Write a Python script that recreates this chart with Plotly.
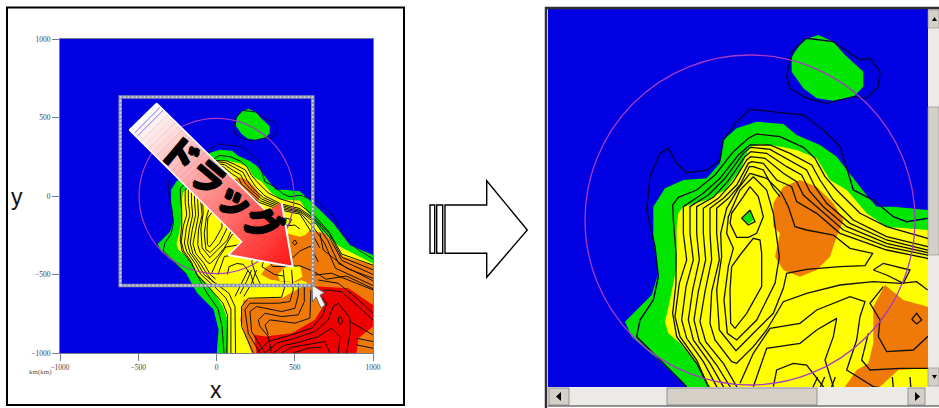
import plotly.graph_objects as go

W, H = 939, 408
BLUE, GREEN, YELLOW, ORANGE, RED = "#0000e2", "#00e600", "#ffff00", "#f07a08", "#f00000"

# ---- map data, in map units (km) ----
land_green = [(-375,-305),(-340,-270),(-295,-225),(-275,-160),(-290,-60),(-290,40),(-255,95),(-200,120),(-130,125),(-90,170),(-80,240),(-40,275),(20,295),(100,288),(140,255),(210,225),(260,190),(295,145),(345,80),(380,40),(430,40),(533,30),(619,-47),(747,-174),(853,-313),(1000,-376),(1000,-1000),(2,-1000),(13,-851),(-19,-723),(-125,-617),(-190,-500),(-280,-415),(-355,-350)]
island_green = [(205,555),(250,535),(285,495),(340,445),(340,400),(310,370),(250,358),(200,365),(160,395),(125,445),(125,490),(160,540)]
land_yellow = [(-255,-305),(-240,-240),(-220,-140),(-220,-20),(-215,20),(-200,40),(-129,60),(-75,90),(-30,150),(-9,201),(0,219),(30,228),(81,222),(140,210),(200,185),(240,120),(290,90),(350,20),(410,-20),(533,-30),(662,-217),(789,-323),(1000,-430),(1000,-1000),(75,-1000),(75,-800),(40,-700),(-40,-579),(-120,-500),(-155,-435),(-210,-370),(-245,-340)]
pocket_green = [(0,30),(10,0),(-5,-12),(-22,5)]
orange_upper = [(70,50),(100,100),(150,120),(200,100),(250,50),(280,0),(260,-50),(240,-110),(200,-150),(150,-170),(100,-150),(75,-110),(90,-40),(70,-20)]
orange_main = [(405,-195),(460,-240),(533,-260),(566,-249),(598,-217),(693,-238),(810,-386),(1000,-440),(1000,-1000),(225,-1000),(151,-791),(171,-662),(267,-651),(416,-651),(586,-556),(545,-536),(500,-550),(428,-547),(343,-532),(285,-500),(320,-450),(355,-430),(370,-370),(370,-260)]
yellow_blob = [(390,-500),(445,-450),(534,-445),(550,-515),(491,-547),(406,-541)]
land_red = [(650,-577),(842,-588),(1000,-694),(1000,-832),(906,-906),(895,-1000),(256,-1000),(241,-884),(310,-895),(480,-874),(629,-789),(682,-704),(629,-598)]

navy_main = [(-190,-500),(-290,-400),(-340,-350),(-330,-300),(-290,-240),(-275,-170),(-285,-80),(-310,30),(-300,130),(-270,200),(-245,215),(-220,170),(-190,142),(-130,150),(-90,180),(-80,240),(-40,295),(0,332),(70,325),(160,315),(220,270),(270,220),(295,140),(310,90),(370,60),(430,10),(470,-5),(533,5),(640,-30),(747,-130),(800,-230),(900,-340),(1000,-400)]
navy_island = [(115,455),(130,510),(170,545),(250,535),(330,480),(360,485),(390,445),(385,400),(350,365),(310,370),(230,350),(170,365),(120,395),(110,430),(115,455)]

contour_1 = [(48,-1000),(35,-830),(10,-720),(-60,-620),(-120,-510),(-160,-430),(-220,-350),(-232,-280),(-222,-190),(-222,-100),(-230,0),(-232,45),(-215,68),(-160,90),(-105,135),(-50,205),(-5,245),(20,258),(90,250),(160,218),(195,185),(225,130),(260,90),(330,20),(410,-20),(533,-55),(640,-140),(720,-230),(800,-370),(1000,-440)]
contour_2 = [(65,-1000),(71,-760),(40,-680),(-40,-590),(-125,-500),(-160,-420),(-210,-350),(-225,-290),(-212,-190),(-190,-120),(-200,-40),(-200,40),(-140,80),(-90,125),(-35,195),(0,225),(60,225),(120,200),(185,165),(210,120),(250,60),(310,0),(410,-50),(533,-80),(640,-155),(720,-240),(800,-390),(1000,-470)]
contour_3 = [(92,-1000),(92,-720),(60,-650),(-15,-575),(-100,-500),(-140,-425),(-190,-355),(-205,-300),(-192,-200),(-170,-120),(-180,-40),(-180,40),(-125,75),(-75,125),(-20,200),(2,218),(60,212),(115,180),(170,150),(195,100),(230,50),(300,-10),(410,-60),(533,-90),(640,-165),(720,-260),(800,-410),(1000,-500)]
contour_4 = [(122,-1000),(118,-704),(80,-620),(0,-560),(-80,-500),(-120,-430),(-170,-360),(-185,-300),(-172,-210),(-152,-120),(-160,-40),(-160,40),(-110,68),(-65,118),(-15,190),(2,205),(50,200),(110,160),(155,135),(180,85),(220,40),(290,-20),(410,-70),(533,-98),(640,-180),(710,-280),(780,-430),(1000,-540)]
contour_5 = [(-20,-550),(-60,-500),(-100,-435),(-152,-365),(-168,-300),(-155,-215),(-133,-120),(-140,-40),(-140,35),(-95,65),(-50,115),(-10,180),(2,190),(45,185),(100,140),(140,115),(160,75),(210,30),(280,-30),(410,-80),(533,-105),(620,-200),(690,-300),(760,-460),(1000,-570)]
contour_6 = [(-5,-530),(-40,-500),(-80,-430),(-133,-365),(-150,-305),(-135,-215),(-115,-120),(-120,-40),(-120,35),(-80,65),(-40,105),(-5,170),(5,175),(40,170),(80,120),(125,100),(140,55),(200,20),(270,-40),(410,-90),(533,-115),(600,-220),(660,-330)]
contour_7 = [(533,-210),(500,-185),(450,-190),(370,-185),(270,-195),(170,-220),(100,-245),(50,-330),(10,-380),(-40,-430),(-55,-425),(-105,-360),(-120,-310),(-115,-215),(-92,-120),(-100,-40),(-100,35),(-65,65),(-30,105),(-2,160),(10,160),(40,150),(70,95),(90,70)]
contour_8 = [(0,140),(-35,95),(-70,35),(-88,-40),(-85,-110),(-100,-210),(-92,-330),(-42,-392),(10,-340),(70,-280),(100,-205),(110,-160),(170,-148),(270,-140),(345,-137),(368,-100),(300,-85),(250,-45),(170,-30),(135,-20),(115,40),(95,80),(50,125),(0,140)]
contour_9 = [(10,130),(-30,90),(-65,10),(-70,-40),(-50,-85),(-65,-140),(-78,-240),(-68,-340),(-40,-360),(20,-300),(75,-190),(88,-110),(70,20),(50,90),(10,130)]
contour_10 = [(0,100),(25,70),(40,10),(20,-40),(-5,-52),(-40,-52),(-60,-10),(-55,20),(-20,70),(0,100)]
contour_11 = [(0,30),(15,-5),(-5,-15),(-25,5),(0,30)]
contour_12 = [(-30,-105),(-55,-140),(-60,-210),(-58,-310),(-45,-325),(-10,-280),(35,-200),(35,-100),(30,-60),(10,-55),(-30,-105)]
contour_13 = [(370,-150),(400,-130),(480,-150),(460,-190),(410,-165),(370,-150)]
contour_14 = [(-30,-490),(10,-400),(60,-325),(150,-310),(200,-270),(300,-230),(345,-245),(330,-290),(320,-360),(290,-450),(370,-500),(430,-510)]
contour_15 = [(10,-500),(50,-385),(150,-370),(200,-330),(260,-295),(250,-350),(225,-420),(250,-500),(280,-560)]
contour_16 = [(70,-500),(80,-450),(130,-430),(170,-435),(220,-500),(240,-570)]
contour_17 = [(400,-200),(360,-250),(390,-300),(385,-350),(410,-395),(490,-390),(533,-350),(600,-320),(650,-420)]
contour_18 = [(355,-340),(335,-420),(360,-450),(450,-445),(533,-445),(620,-480),(700,-530),(830,-510),(1000,-590)]
contour_19 = [(485,-298),(500,-280),(515,-300),(500,-312),(485,-298)]
branch_1 = [(118,-640),(171,-540),(203,-471)]
branch_2 = [(150,-624),(192,-545),(224,-471)]
branch_3 = [(175,-640),(224,-556),(256,-471)]
south_1 = [(235,-1000),(160,-831),(160,-704),(203,-651),(416,-645),(437,-577),(427,-471)]
south_2 = [(278,-1000),(203,-874),(182,-725),(214,-683),(395,-683),(469,-672),(490,-598),(480,-471)]
south_3 = [(310,-1000),(224,-863),(214,-736),(256,-704),(416,-736),(501,-715),(523,-630),(523,-556)]
south_4 = [(352,-1000),(331,-895),(278,-831),(267,-789),(310,-747),(416,-768),(523,-757),(561,-672),(561,-566)]
south_5 = [(331,-884),(310,-821),(341,-789),(501,-810),(597,-778),(603,-598)]
south_6 = [(256,-1000),(331,-927),(480,-884),(608,-842),(682,-757),(704,-683),(650,-619),(640,-577)]
south_7 = [(310,-1000),(384,-937),(501,-906),(629,-863),(714,-789),(746,-704),(778,-683),(853,-778),(853,-874),(831,-1000)]
south_8 = [(363,-1000),(427,-954),(544,-927),(650,-895),(735,-842),(789,-895),(778,-1000)]
south_9 = [(416,-1000),(480,-963),(608,-942),(693,-927),(725,-1000)]
south_10 = [(491,-1000),(586,-969),(672,-963)]
south_11 = [(650,-535),(778,-556),(885,-641),(1000,-747)]
south_12 = [(682,-598),(799,-609),(906,-704),(1000,-789)]
south_13 = [(629,-503),(735,-492),(842,-535),(1000,-598)]
south_14 = [(853,-800),(906,-832),(1000,-885)]
south_15 = [(895,-906),(1000,-927)]
south_16 = [(895,-948),(1000,-970)]
south_17 = [(782,-768),(799,-778),(806,-800),(789,-821),(778,-800),(782,-768)]
south_18 = [(661,-238),(682,-344),(831,-460),(1000,-524)]

fills = [(land_green, GREEN), (island_green, GREEN), (land_yellow, YELLOW), (pocket_green, GREEN),
         (orange_upper, ORANGE), (orange_main, ORANGE), (yellow_blob, YELLOW), (land_red, RED)]
navy_lines = [navy_main, navy_island]
black_lines = [contour_1, contour_2, contour_3, contour_4, contour_5, contour_6, contour_7, contour_8,
               contour_9, contour_10, contour_11, contour_12, contour_13, contour_14, contour_15,
               contour_16, contour_17, contour_18, contour_19, branch_1, branch_2, branch_3,
               south_1, south_2, south_3, south_4, south_5, south_6, south_7, south_8, south_9, south_10,
               south_11, south_12, south_13, south_14, south_15, south_16, south_17, south_18]

tick_values = [-1000, -500, 0, 500, 1000]
tick_labels = ["−1000", "−500", "0", "500", "1000"]
map_range = [-1000, 1000]
zoom_x_range = [-606, 534]
zoom_y_range = [-501, 633]
circle_radius = 495
select_x = [-615, 615]
select_y = [-570, 630]

fig = go.Figure()
sea = [(-1000,-1000),(1000,-1000),(1000,1000),(-1000,1000)]


def xs(p):
    return [a for a, _ in p] + [p[0][0]]


def ys(p):
    return [b for _, b in p] + [p[0][1]]


for xa, ya, lw, nw in (("x", "y", 1.0, 0.9), ("x2", "y2", 1.3, 1.4)):
    fig.add_trace(go.Scatter(x=xs(sea), y=ys(sea), xaxis=xa, yaxis=ya, mode="none", fill="toself",
                             fillcolor=BLUE, hoverinfo="skip"))
    for poly, col in fills:
        fig.add_trace(go.Scatter(x=xs(poly), y=ys(poly), xaxis=xa, yaxis=ya, mode="none", fill="toself",
                                 fillcolor=col, hoverinfo="skip"))
    for ln in navy_lines:
        fig.add_trace(go.Scatter(x=[a for a, _ in ln], y=[b for _, b in ln], xaxis=xa, yaxis=ya, mode="lines",
                                 line=dict(color="#000040", width=nw), hoverinfo="skip"))
    for ln in black_lines:
        fig.add_trace(go.Scatter(x=[a for a, _ in ln], y=[b for _, b in ln], xaxis=xa, yaxis=ya, mode="lines",
                                 line=dict(color="#101010", width=lw), hoverinfo="skip"))


def px(x):
    return x / W


def py(y):
    return 1 - y / H


def path(points, close=True):
    s = "M " + " L ".join(f"{px(x):.5f},{py(y):.5f}" for x, y in points)
    return s + (" Z" if close else "")


shapes = []


def add_poly(points, fill="rgba(0,0,0,0)", line=None, width=0, close=True):
    shapes.append(dict(type="path", xref="paper", yref="paper", path=path(points, close), fillcolor=fill,
                       line=dict(color=line or fill, width=width), layer="above"))


def add_rect(x0, y0, x1, y1, fill="rgba(0,0,0,0)", line=None, width=0):
    add_poly([(x0, y0), (x1, y0), (x1, y1), (x0, y1)], fill, line, width)


# circle and selection box on the map
for xr, yr, wd in (("x", "y", 1.2), ("x2", "y2", 1.3)):
    shapes.append(dict(type="circle", xref=xr, yref=yr, x0=-circle_radius, x1=circle_radius,
                       y0=-circle_radius, y1=circle_radius, line=dict(color="#a838c8", width=wd), layer="above"))
shapes.append(dict(type="rect", xref="x", yref="y", x0=select_x[0], x1=select_x[1], y0=select_y[0], y1=select_y[1],
                   line=dict(color="#8c90ac", width=3.5), layer="above"))
shapes.append(dict(type="rect", xref="x", yref="y", x0=select_x[0], x1=select_x[1], y0=select_y[0], y1=select_y[1],
                   line=dict(color="#d8d8e0", width=1.5, dash="2px,2px"), layer="above"))

# drag arrow (gradient built from thin bands)
arrow = [(x / 3, y / 3) for x, y in [(388,390),(470,310),(800,635),(845,608),(878,800),(685,765),(725,725)]]


def clip(points, ax, ay, c, keep_ge):
    out = []
    n = len(points)
    for i in range(n):
        p, q = points[i], points[(i + 1) % n]
        dp, dq = ax * p[0] + ay * p[1] - c, ax * q[0] + ay * q[1] - c
        inp, inq = (dp >= 0) == keep_ge, (dq >= 0) == keep_ge
        if inp:
            out.append(p)
        if inp != inq:
            t = dp / (dp - dq)
            out.append((p[0] + t * (q[0] - p[0]), p[1] + t * (q[1] - p[1])))
    return out


g0 = (430 / 3, 350 / 3)
g1 = (878 / 3, 800 / 3)
gx, gy = g1[0] - g0[0], g1[1] - g0[1]
gl = gx * gx + gy * gy
BANDS = 40
for i in range(-3, BANDS):
    t0, t1 = i / BANDS, (i + 1) / BANDS
    c0 = gx * g0[0] + gy * g0[1] + t0 * gl
    c1 = gx * g0[0] + gy * g0[1] + t1 * gl
    band = clip(clip(arrow, gx, gy, c0, True), gx, gy, c1, False)
    if len(band) >= 3:
        v = max(0, min(1, (t0 + t1) / 2))
        col = f"rgb(255,{int(255 - 235 * v)},{int(255 - 235 * v)})"
        add_poly(band, col, col, 0.6)

add_poly([(845/3,608/3),(878/3,800/3),(685/3,765/3)], line="#ffffff", width=2, close=False)
add_poly([(470/3,310/3),(800/3,635/3)], line="#ffffff", width=1.5, close=False)
add_poly([(388/3,390/3),(470/3,310/3)], line="#ffffff", width=1.5, close=False)
add_poly([(388/3,390/3),(725/3,725/3),(685/3,765/3)], line="#ffffff", width=1.5, close=False)
add_poly([(405/3,398/3),(480/3,322/3)], line="#5a5af0", width=0.8, close=False)
add_poly([(413/3,407/3),(489/3,331/3)], line="#5a5af0", width=0.8, close=False)

# mouse cursor
cursor = [(312,285),(312.5,302),(316,297),(321,308),(325,305),(320,295),(324.5,293)]
add_poly(cursor, "#f4f4f4", "#6a6a6a", 1)

# left frame
add_rect(7, 7.5, 404, 405, line="#000000", width=2)

# hollow arrow between the panels
add_poly([(445,205),(486.7,205),(486.7,180.7),(527.3,230),(486.7,277.3),(486.7,253.3),(445,253.3)],
         "#ffffff", "#000000", 1.4)
add_rect(430, 205, 434.7, 253.3, "#ffffff", "#000000", 1.4)
add_rect(436.7, 205, 442.7, 253.3, "#ffffff", "#000000", 1.4)

# right window chrome
TRACK, BTN = "#eceae6", "#d4d0c8"
add_rect(928, 9, 939, 387, TRACK)
add_rect(548, 387, 939, 406, TRACK)
add_rect(928, 107, 939, 255, BTN, "#8a8a86", 0.6)
add_rect(928, 10, 939, 28, BTN, "#8a8a86", 0.6)
add_rect(928, 368, 939, 386, BTN, "#8a8a86", 0.6)
add_rect(549, 388, 569, 405, BTN, "#808080", 0.8)
add_rect(667, 388, 817, 405, BTN, "#808080", 0.8)
add_rect(908, 388, 925, 405, BTN, "#808080", 0.8)
add_poly([(932,21),(937,21),(934.5,17)], "#000000")
add_poly([(932,375),(937,375),(934.5,379)], "#000000")
add_poly([(561,392),(561,401),(556,396.5)], "#000000")
add_poly([(915,392),(915,401),(920,396.5)], "#000000")
add_poly([(546,408),(546,8),(939,8)], line="#303030", width=2.5, close=False)
add_poly([(548,406),(939,406)], line="#707070", width=1.5, close=False)

thick = "1px 1px 0 #000,-1px -1px 0 #000,1px -1px 0 #000,-1px 1px 0 #000"
annotations = [
    dict(x=px(223), y=py(187), xref="paper", yref="paper", text="<b>ドラッグ</b>", textangle=40, showarrow=False,
         font=dict(family="Noto Sans CJK JP", size=36, color="#000000", shadow=thick),
         xanchor="center", yanchor="middle"),
    dict(x=px(216), y=py(390), xref="paper", yref="paper", text="x", showarrow=False,
         font=dict(family="Liberation Sans", size=23, color="#111111"), xanchor="center", yanchor="middle"),
    dict(x=px(17), y=py(197), xref="paper", yref="paper", text="y", showarrow=False,
         font=dict(family="Liberation Sans", size=23, color="#111111"), xanchor="center", yanchor="middle"),
    dict(x=px(40), y=py(372), xref="paper", yref="paper", text="km(km)", showarrow=False,
         font=dict(family="Liberation Serif", size=7, color="#555555"), xanchor="center", yanchor="middle"),
]

tick_style = dict(tickmode="array", tickvals=tick_values, ticktext=tick_labels, ticks="outside", ticklen=7,
                  tickcolor="#777a90", tickwidth=1, showgrid=False, zeroline=False, showline=True,
                  linecolor="#777a90", linewidth=1, mirror=True,
                  tickfont=dict(family="Liberation Serif", size=7.5, color="#444444"))
hidden = dict(showticklabels=False, ticks="", showgrid=False, zeroline=False, showline=False)

fig.update_layout(
    width=W, height=H, autosize=False, margin=dict(l=0, r=0, t=0, b=0, pad=0, autoexpand=False), showlegend=False,
    paper_bgcolor="#ffffff", plot_bgcolor="rgba(0,0,0,0)", shapes=shapes, annotations=annotations,
    xaxis=dict(domain=[px(60), px(373)], range=map_range, anchor="y", automargin=False, **tick_style),
    yaxis=dict(domain=[py(353), py(39)], range=map_range, anchor="x", automargin=False, **tick_style),
    xaxis2=dict(domain=[px(548), px(928)], range=zoom_x_range, anchor="y2", automargin=False, **hidden),
    yaxis2=dict(domain=[py(387), py(9)], range=zoom_y_range, anchor="x2", automargin=False, **hidden),
)

fig.write_html("out.html", config={"displayModeBar": False},
               post_script="document.body.style.margin='0';document.body.style.overflow='hidden';")
